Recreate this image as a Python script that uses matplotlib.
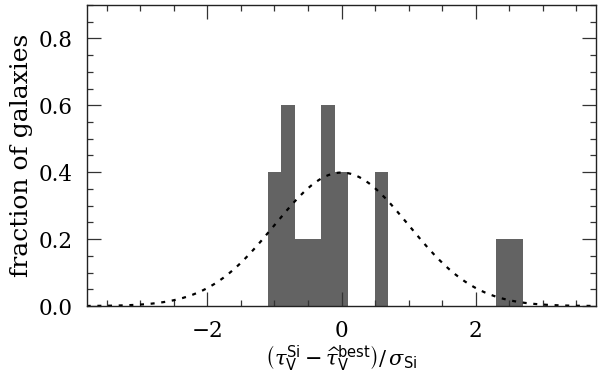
import numpy as np
import matplotlib
matplotlib.use("Agg")
import matplotlib.pyplot as plt
from matplotlib.ticker import MultipleLocator

# histogram bins (left edges, width) and fractions
bin_left = [-1.1, -0.9, -0.7, -0.5, -0.3, -0.1, 0.5, 2.3, 2.5]
bin_width = 0.2
fraction = [0.4, 0.6, 0.2, 0.2, 0.6, 0.4, 0.4, 0.2, 0.2]

# reference Gaussian (mean, sigma)
g_mean, g_sigma = 0.0, 1.0

plt.rcParams['font.family'] = ['DejaVu Serif']
plt.rcParams['mathtext.fontset'] = 'dejavuserif'

fig = plt.figure(figsize=(6.0, 3.76), dpi=100)
ax = fig.add_axes([0.1445, 0.186, 0.8495, 0.801])

ax.bar(bin_left, fraction, width=bin_width, align='edge', color='#636363',
       edgecolor='none', linewidth=0)

xg = np.linspace(-3.8, 3.8, 400)
yg = np.exp(-0.5 * ((xg - g_mean) / g_sigma) ** 2) / (g_sigma * np.sqrt(2 * np.pi))
ax.plot(xg, yg, color='black', lw=1.6, linestyle=(0, (1.8, 3.0)))

ax.set_xlim(-3.8, 3.8)
ax.set_ylim(0, 0.9)
ax.xaxis.set_major_locator(MultipleLocator(2))
ax.xaxis.set_minor_locator(MultipleLocator(0.5))
ax.yaxis.set_major_locator(MultipleLocator(0.2))
ax.yaxis.set_minor_locator(MultipleLocator(0.05))
ax.yaxis.set_major_formatter(plt.FuncFormatter(lambda v, p: f"{v:.1f}"))
ax.xaxis.set_major_formatter(plt.FuncFormatter(lambda v, p: f"{v:.0f}".replace('-', '\u2212')))

ax.tick_params(which='both', direction='in', top=True, right=True,
               color='#333333', width=0.9, labelsize=15.5)
ax.tick_params(axis='x', which='major', length=10, pad=10)
ax.tick_params(axis='y', which='major', length=10, pad=10)
ax.tick_params(which='minor', length=4.5)
for s in ax.spines.values():
    s.set_linewidth(1.0)
    s.set_color('#222222')

ax.set_ylabel('fraction of galaxies', fontsize=18, labelpad=4)
ax.set_xlabel(r'$\left(\tau_{\mathsf{V}}^{\mathsf{Si}}-\widehat{\tau}_{\mathsf{V}}^{\mathsf{best}}\right)/\,\sigma_{\mathsf{Si}}$',
              fontsize=15, labelpad=1)

fig.savefig('out.png', dpi=100)
